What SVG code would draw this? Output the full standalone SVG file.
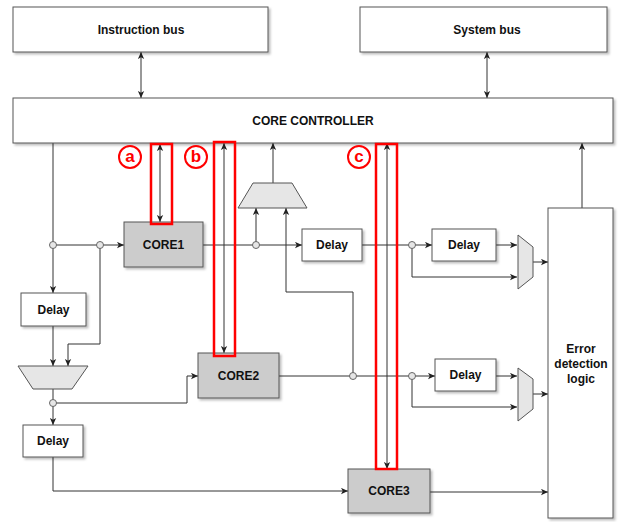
<svg xmlns="http://www.w3.org/2000/svg" width="618" height="522" viewBox="0 0 618 522">
<defs>
<marker id="ah" viewBox="0 0 10 10" refX="10" refY="5" markerWidth="7" markerHeight="7" orient="auto-start-reverse" markerUnits="userSpaceOnUse">
<path d="M0,0.5 L10,5 L0,9.5 L2.5,5 Z" fill="#222"/>
</marker>
<filter id="sh" x="-10%" y="-10%" width="130%" height="130%">
<feDropShadow dx="2" dy="2" stdDeviation="1" flood-color="#000" flood-opacity="0.25"/>
</filter>
</defs>
<style>
.box{fill:#fff;stroke:#555;stroke-width:1;filter:url(#sh)}
.core{fill:#cccccc;stroke:#555;stroke-width:1;filter:url(#sh)}
.mux{fill:#e6e6e6;stroke:#555;stroke-width:1}
.t{font-family:"Liberation Sans",Arial,sans-serif;font-weight:bold;font-size:12px;fill:#111;text-anchor:middle;dominant-baseline:central}
.c{fill:none;stroke:#333;stroke-width:1}
.a{marker-end:url(#ah)}
.d{marker-start:url(#ah);marker-end:url(#ah)}
.j{fill:#e6e6e6;stroke:#666;stroke-width:1}
.red{fill:none;stroke:#f00;stroke-width:2.5}
.lc{fill:#fff;stroke:#f00;stroke-width:2}
.lt{font-family:"Liberation Sans",Arial,sans-serif;font-weight:bold;font-size:17px;fill:#f00;text-anchor:middle;dominant-baseline:central}
</style>
<rect width="618" height="522" fill="#fff"/>

<g id="connectors">
<path class="c d" d="M141,52 V98"/>
<path class="c d" d="M487,52 V98"/>
<path class="c d" d="M160,144 V222"/>
<path class="c d" d="M224,143 V353"/>
<path class="c d" d="M387,143 V469"/>
<path class="c a" d="M53,143 V293"/>
<path class="c a" d="M53,245 H124"/>
<path class="c a" d="M100,245 V344 H68 V366"/>
<path class="c a" d="M53,326 V366"/>
<path class="c a" d="M53,389 V425"/>
<path class="c a" d="M53,403 H187 V376 H198"/>
<path class="c a" d="M53,457 V491 H348"/>
<path class="c a" d="M203,245 H302"/>
<path class="c a" d="M256,245 V208"/>
<path class="c a" d="M353,376 V292 H286 V208"/>
<path class="c a" d="M273,183 V143"/>
<path class="c a" d="M362,245 H432"/>
<path class="c a" d="M412,245 V277 H517"/>
<path class="c a" d="M496,245 H517"/>
<path class="c a" d="M533,262 H548"/>
<path class="c a" d="M279,376 H435"/>
<path class="c a" d="M412,376 V407 H517"/>
<path class="c a" d="M496,376 H517"/>
<path class="c a" d="M533,394 H548"/>
<path class="c a" d="M430,492 H548"/>
<path class="c a" d="M582,208 V143"/>
<circle class="j" cx="53" cy="245" r="3.5"/>
<circle class="j" cx="100" cy="245" r="3.5"/>
<circle class="j" cx="256" cy="245" r="3.5"/>
<circle class="j" cx="412" cy="245" r="3.5"/>
<circle class="j" cx="53" cy="403" r="3.5"/>
<circle class="j" cx="353" cy="376" r="3.5"/>
<circle class="j" cx="412" cy="376" r="3.5"/>
</g>

<g id="instruction-bus"><rect class="box" x="13" y="7" width="255" height="45"/><text class="t" x="141" y="29.5">Instruction bus</text></g>
<g id="system-bus"><rect class="box" x="360" y="7" width="247" height="45"/><text class="t" x="487" y="29.5">System bus</text></g>
<g id="core-controller"><rect class="box" x="13" y="98" width="600" height="45"/><text class="t" x="313" y="120.5">CORE CONTROLLER</text></g>
<g id="core1"><rect class="core" x="124" y="222" width="79" height="45"/><text class="t" x="163.5" y="244.5">CORE1</text></g>
<g id="core2"><rect class="core" x="198" y="353" width="81" height="45"/><text class="t" x="238.5" y="375.5">CORE2</text></g>
<g id="core3"><rect class="core" x="348" y="469" width="82" height="44"/><text class="t" x="389" y="491">CORE3</text></g>
<g id="delay-1"><rect class="box" x="302" y="229" width="60" height="32"/><text class="t" x="332" y="245">Delay</text></g>
<g id="delay-2"><rect class="box" x="432" y="229" width="64" height="32"/><text class="t" x="464" y="245">Delay</text></g>
<g id="delay-3"><rect class="box" x="435" y="359" width="61" height="32"/><text class="t" x="465.5" y="375">Delay</text></g>
<g id="delay-4"><rect class="box" x="21" y="293" width="65" height="33"/><text class="t" x="53.5" y="309.5">Delay</text></g>
<g id="delay-5"><rect class="box" x="23" y="425" width="60" height="32"/><text class="t" x="53" y="441">Delay</text></g>
<g id="error-detection"><rect class="box" x="548" y="208" width="65" height="310"/>
<text class="t" x="581" y="349">Error</text><text class="t" x="581" y="364">detection</text><text class="t" x="581" y="379">logic</text></g>
<g id="mux-top"><polygon class="mux" points="253,183 292,183 307,208 238,208"/></g>
<g id="mux-left"><polygon class="mux" points="18,366 88,366 72,389 33,389"/></g>
<g id="mux-right-1"><polygon class="mux" points="518,235 533,247 533,277 518,289"/></g>
<g id="mux-right-2"><polygon class="mux" points="518,368 533,379 533,409 518,421"/></g>

<g id="highlight-a"><rect class="red" x="151" y="144" width="21" height="80"/><circle class="lc" cx="130" cy="157" r="11"/><text class="lt" x="130" y="156">a</text></g>
<g id="highlight-b"><rect class="red" x="214" y="142" width="21" height="214"/><circle class="lc" cx="196" cy="157" r="11"/><text class="lt" x="196" y="156">b</text></g>
<g id="highlight-c"><rect class="red" x="376" y="144" width="21" height="325"/><circle class="lc" cx="359" cy="157" r="11"/><text class="lt" x="359" y="156">c</text></g>
</svg>
